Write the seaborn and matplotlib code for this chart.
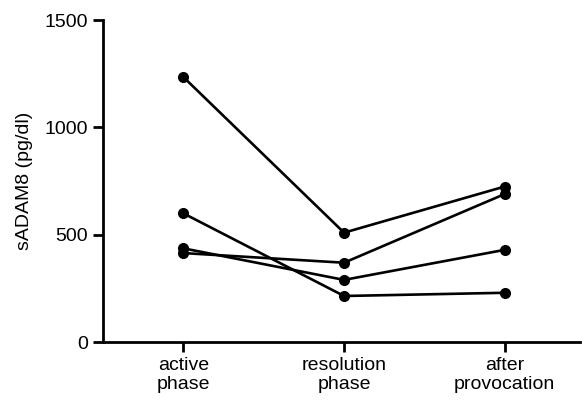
import pandas as pd
import seaborn as sns
import matplotlib.pyplot as plt

phases = ["active\nphase", "resolution\nphase", "after\nprovocation"]
patient_a = [1235, 510, 725]
patient_b = [600, 215, 230]
patient_c = [415, 370, 690]
patient_d = [437, 290, 430]

rows = []
for name, vals in [("A", patient_a), ("B", patient_b), ("C", patient_c), ("D", patient_d)]:
    for ph, v in zip(phases, vals):
        rows.append({"patient": name, "phase": ph, "value": v})
df = pd.DataFrame(rows)

sns.set_style("ticks")
plt.rcParams['font.family'] = ['Liberation Sans', 'DejaVu Sans']
plt.rcParams['text.color'] = 'black'
plt.rcParams['axes.labelcolor'] = 'black'
plt.rcParams['xtick.color'] = 'black'
plt.rcParams['ytick.color'] = 'black'

fig = plt.figure(figsize=(5.82, 4.03), dpi=100)
ax = fig.add_axes([0.177, 0.151, 0.82, 0.799])

sns.lineplot(data=df, x="phase", y="value", units="patient", estimator=None,
             marker="o", markersize=8, markeredgewidth=0, color="black",
             linewidth=1.9, sort=False, ax=ax)

ax.set_ylim(0, 1500)
ax.set_xlim(-0.5, 2.47)
ax.set_yticks([0, 500, 1000, 1500])
ax.set_xlabel("")
ax.set_ylabel("sADAM8 (pg/dl)", fontsize=14, labelpad=8)
ax.tick_params(axis="both", labelsize=14, length=7, width=2, color="black", pad=4)
for s in ["left", "bottom"]:
    ax.spines[s].set_linewidth(2)
    ax.spines[s].set_color("black")
sns.despine(ax=ax)
for lbl in ax.get_xticklabels():
    lbl.set_linespacing(1.15)

fig.savefig("out.png", dpi=100)
